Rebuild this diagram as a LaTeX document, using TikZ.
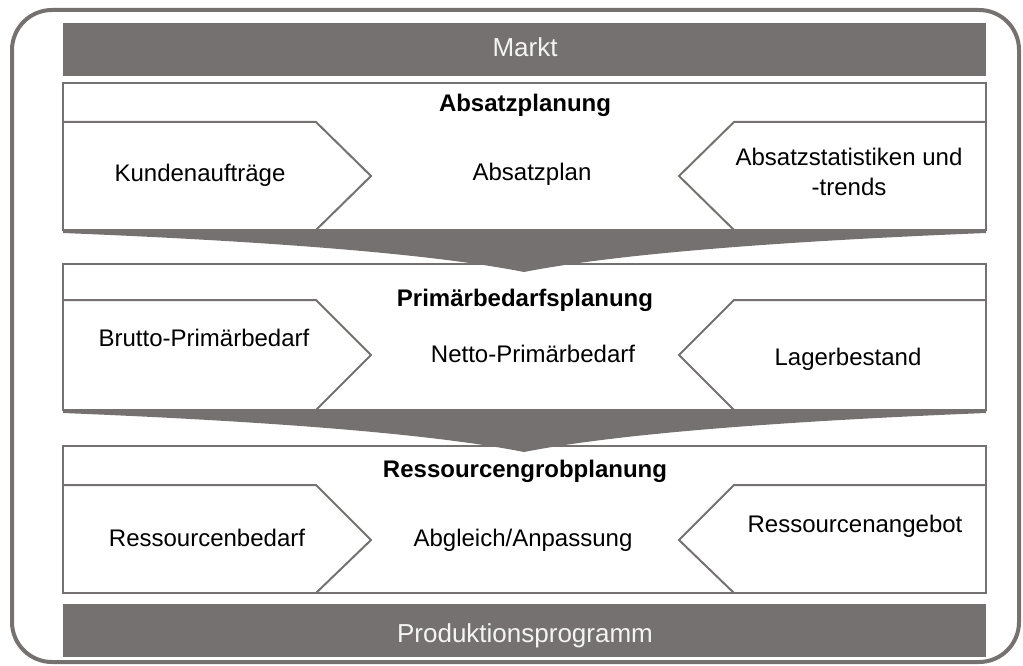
\documentclass[tikz,border=0pt]{standalone}
\usepackage{fontspec}
\setmainfont{Liberation Sans}
\definecolor{tgray}{HTML}{767171}
\definecolor{offwhite}{HTML}{F4F4F4}
\newcommand\plansection[4]{%
  \draw[frame] (63,#1) rectangle (986,#3);
  \draw[frame] (63,#2) -- (316,#2) -- (371,#4) -- (316,#3);
  \draw[frame] (986,#2) -- (734,#2) -- (679,#4) -- (734,#3);
}
\newcommand\funnelshape{%
  \fill[tgray] (63,229) -- (986,229) -- (986,233)
    .. controls (765.3,241.9) and (611.3,254.9) .. (524,272)
    .. controls (437.3,254.9) and (283.7,241.9) .. (63,233) -- cycle;
}
\begin{document}
\begin{tikzpicture}[x=1pt,y=-1pt,
  frame/.style={draw=tgray,line width=2pt,line join=miter},
  bartext/.style={text=offwhite,font=\fontsize{26}{30}\selectfont,inner sep=0pt,anchor=base},
  body/.style={font=\fontsize{24}{30}\selectfont,inner sep=0pt,anchor=base,align=center},
  titletext/.style={font=\fontsize{24}{30}\selectfont\bfseries,inner sep=0pt,anchor=base}]
\useasboundingbox (0,0) rectangle (1023,666);
\draw[draw=tgray,line width=4pt,rounded corners=40pt] (12,10) rectangle (1019,662);
% bars
\fill[tgray] (63,23) rectangle (986,76);
\node[bartext] (markt) at (525,57) {Markt};
\fill[tgray] (63,604) rectangle (986,657);
\node[bartext] (prod) at (525,642) {Produktionsprogramm};
% sections
\plansection{83}{122}{230}{176}
\plansection{264}{300}{410}{355}
\plansection{446}{485}{593}{540}
% funnels
\funnelshape
\begin{scope}[yshift=-180pt]
\funnelshape
\end{scope}
% section 1
\node[titletext] (t1) at (525,112) {Absatzplanung};
\node[body] (kund) at (200,182) {Kundenaufträge};
\node[body] (aplan) at (532,180) {Absatzplan};
\node[body] (astat) at (849,195) {Absatzstatistiken und\\-trends};
% section 2
\node[titletext] (t2) at (525,306) {Primärbedarfsplanung};
\node[body] (brutto) at (204,346) {Brutto-Primärbedarf};
\node[body] (netto) at (533,362) {Netto-Primärbedarf};
\node[body] (lager) at (848,365) {Lagerbestand};
% section 3
\node[titletext] (t3) at (525,477) {Ressourcengrobplanung};
\node[body] (rbed) at (207,546) {Ressourcenbedarf};
\node[body] (abgl) at (523,546) {Abgleich/Anpassung};
\node[body] (rang) at (855,532) {Ressourcenangebot};
\end{tikzpicture}
\end{document}
